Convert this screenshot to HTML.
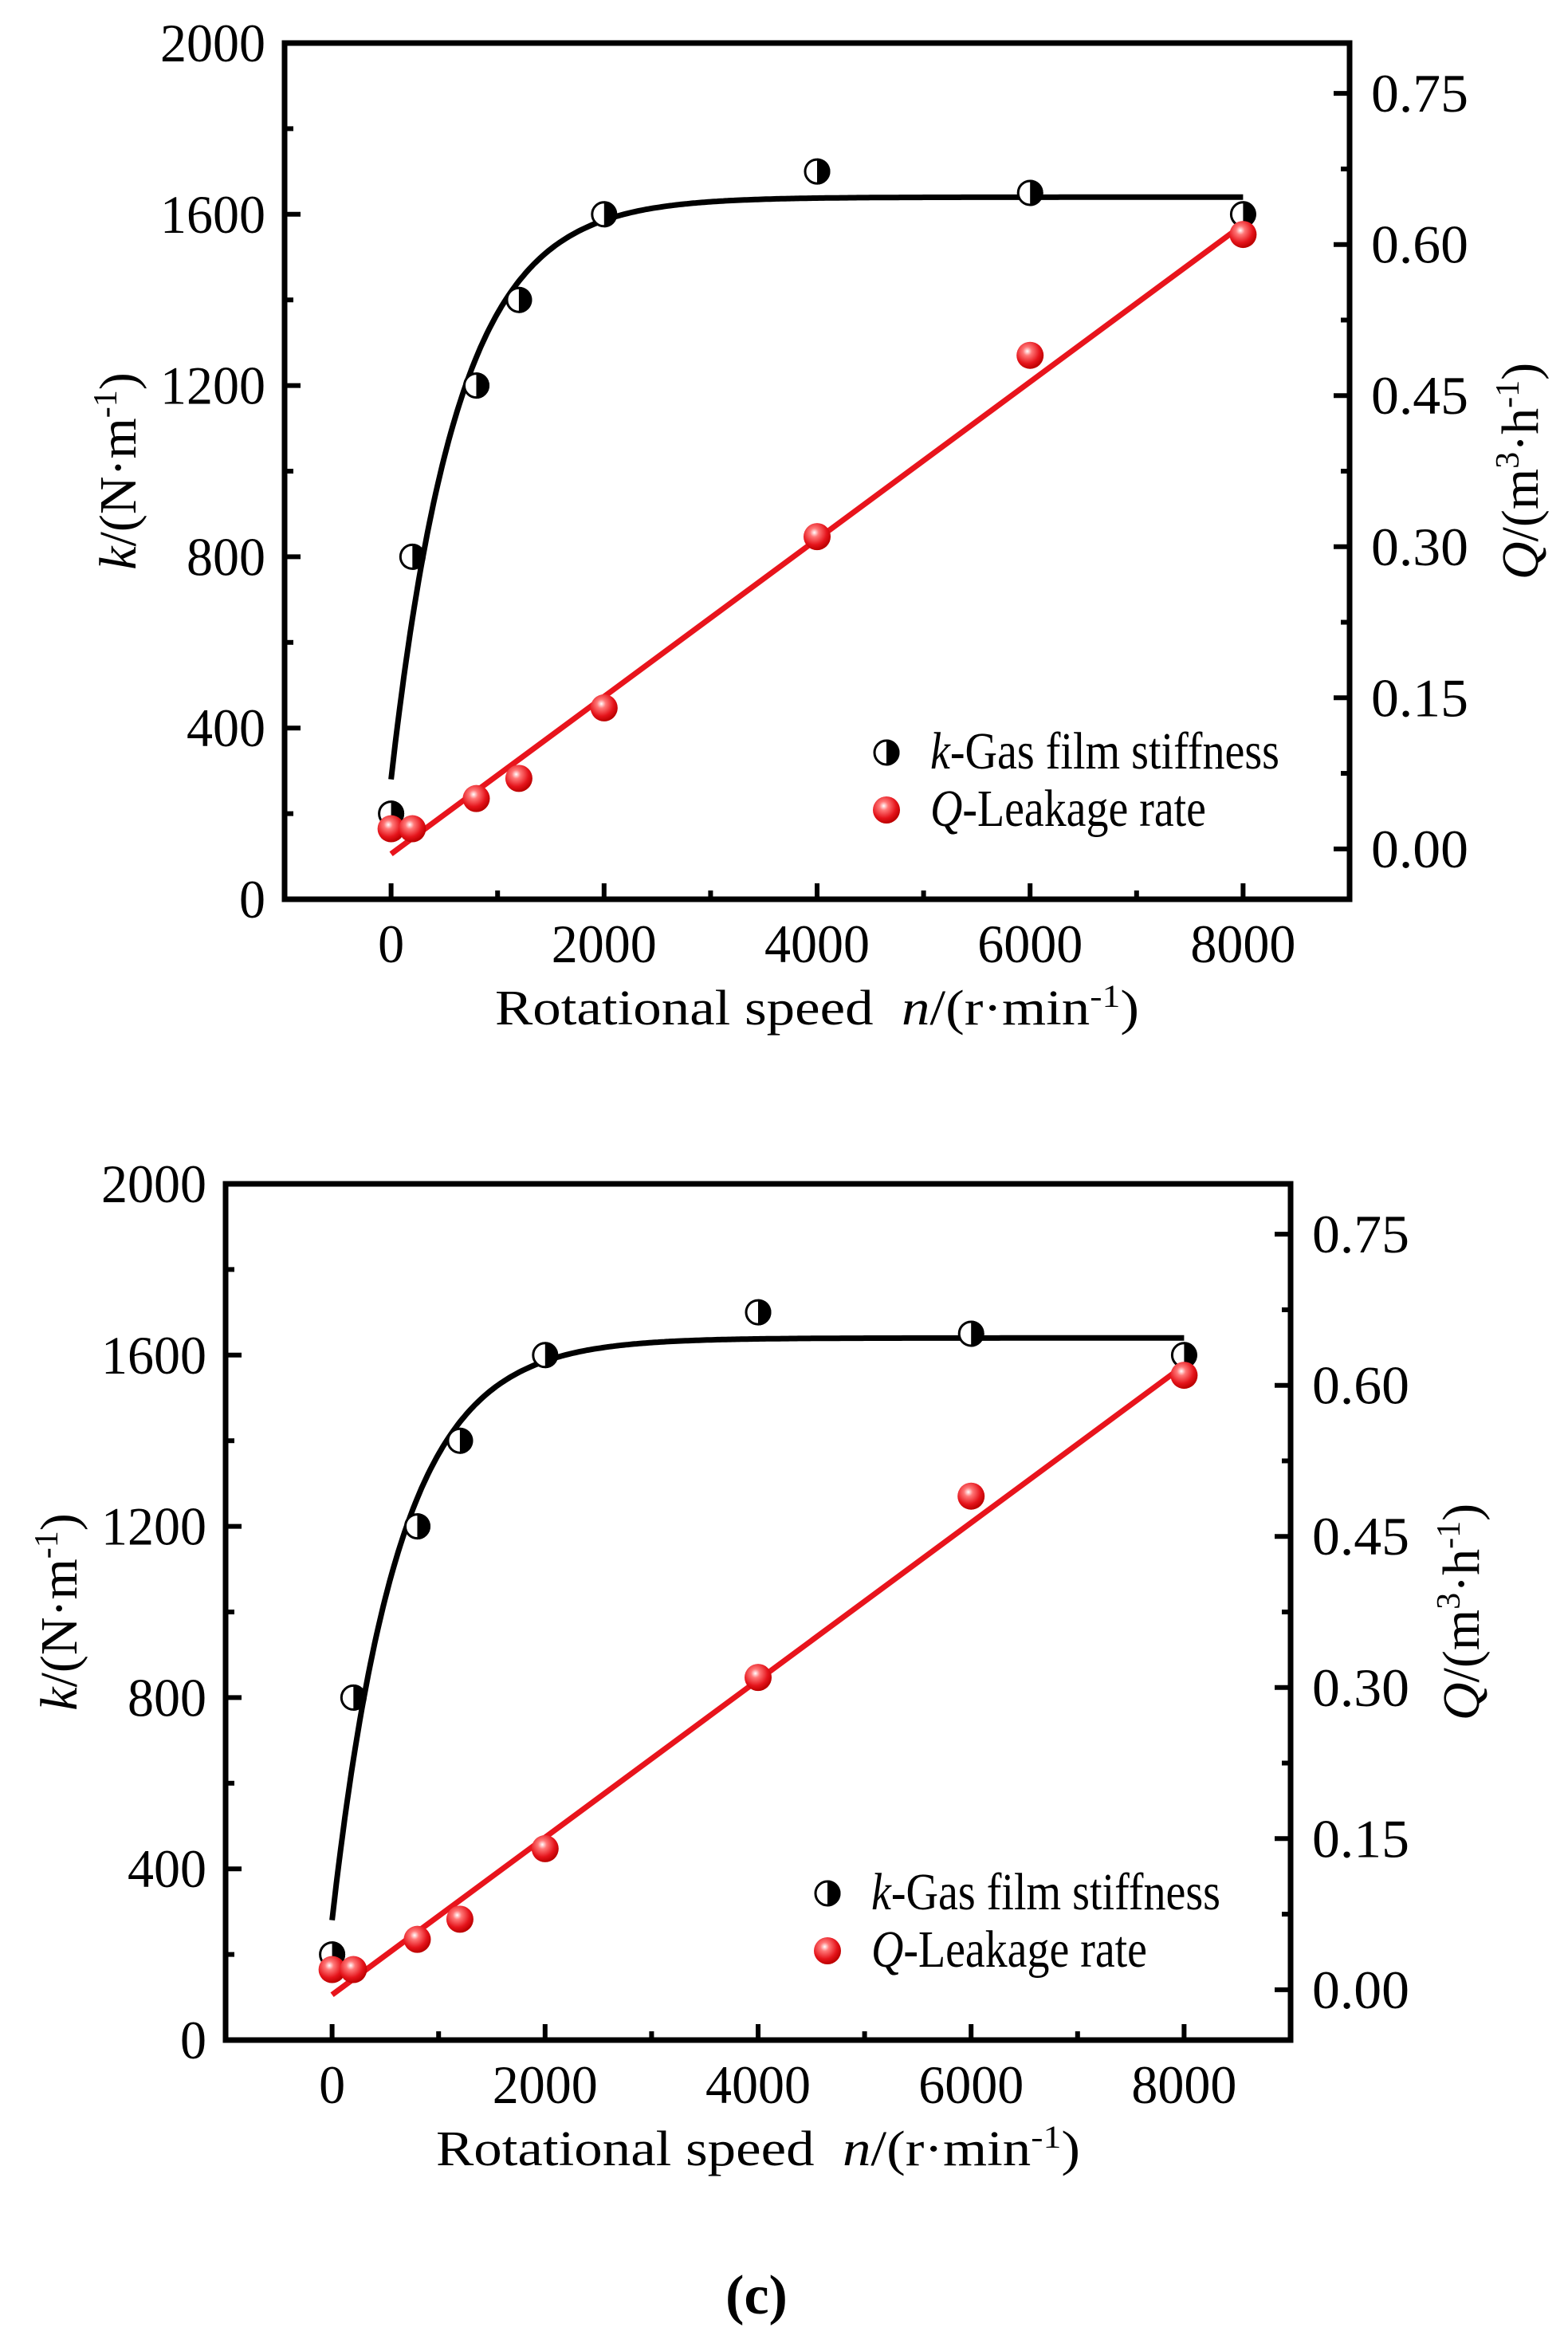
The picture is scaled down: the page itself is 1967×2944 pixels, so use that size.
<!DOCTYPE html>
<html><head><meta charset="utf-8"><style>
html,body{margin:0;padding:0;background:#fff;}
svg{display:block;font-family:"Liberation Serif","Times New Roman",serif;}
</style></head><body>
<svg id="fig" width="1967" height="2944" viewBox="0 0 1967 2944" xmlns="http://www.w3.org/2000/svg">
<defs>
<radialGradient id="redball" cx="0.4" cy="0.35" r="0.65">
<stop offset="0" stop-color="#fff"/><stop offset="0.25" stop-color="#f77"/><stop offset="0.7" stop-color="#e5141b"/><stop offset="1" stop-color="#b00"/>
</radialGradient>
</defs>
<text x="949" y="2902" font-size="70" font-weight="bold" text-anchor="middle">(c)</text>
</svg>
<script>
const speedCats = [0, 200, 800, 1200, 2000, 4000, 6000, 8000];
const stiffnessVals = [200, 800, 1200, 1400, 1600, 1700, 1650, 1600];
const leakageVals = [0.02, 0.02, 0.05, 0.07, 0.14, 0.31, 0.49, 0.61];
const xTicks = [0, 2000, 4000, 6000, 8000];
const kTicks = [0, 400, 800, 1200, 1600, 2000];
const qTicks = ["0.00", "0.15", "0.30", "0.45", "0.60", "0.75"];
const kFitParams = [280, 1640, 620];   // start, plateau, tau
const qFitParams = [-0.005, 0.0000781]; // intercept, slope

const NS = "http://www.w3.org/2000/svg";
const svg = document.getElementById('fig');
function mk(tag, attrs, parent) {
  const e = document.createElementNS(NS, tag);
  for (const k in attrs) e.setAttribute(k, attrs[k]);
  (parent || svg).appendChild(e);
  return e;
}

function drawPanel(ox, oy, id) {
  const L = ox, R = ox + 1336, T = oy, B = oy + 1074;
  const X = n => L + (n + 1000) / 10000 * (R - L);
  const YK = k => B - k / 2000 * (B - T);
  const YQ = q => B - (q + 0.05) / 0.85 * (B - T);
  const g = mk('g', {});
  
  

  const tk = mk('g', {stroke: '#000', 'stroke-width': 6}, g);
  
  
  for (let k = 0; k <= 2000; k += 200) {
    const len = (k % 400 === 0) ? 20 : 11;
    mk('line', {x1: L, x2: L + len, y1: YK(k), y2: YK(k)}, tk);
  }
  for (let i = 0; i <= 11; i++) {
    const q = i * 0.075;
    if (q > 0.8) break;
    const len = (i % 2 === 0) ? 20 : 11;
    mk('line', {x1: R, x2: R - len, y1: YQ(q), y2: YQ(q)}, tk);
  }
  for (let n = 0; n <= 8000; n += 1000) {
    const len = (n % 2000 === 0) ? 20 : 11;
    mk('line', {x1: X(n), x2: X(n), y1: B, y2: B - len}, tk);
  }

  const fr = mk('rect', {x: L, y: T, width: R - L, height: B - T, fill: 'none', stroke: '#000', 'stroke-width': 7}, g);
  
  

  kTicks.forEach(k => {
    const t = mk('text', {x: L - 24, y: YK(k) + 23, 'font-size': 68, 'text-anchor': 'end', textLength: String(k).length * 33, lengthAdjust: 'spacingAndGlyphs'}, g);
    
    
    t.textContent = k;
  });
  qTicks.forEach(q => {
    const t = mk('text', {x: R + 27, y: YQ(parseFloat(q)) + 23, 'font-size': 68, textLength: 122, lengthAdjust: 'spacingAndGlyphs'}, g);
    
    
    t.textContent = q;
  });
  xTicks.forEach(n => {
    const t = mk('text', {x: X(n), y: B + 79, 'font-size': 68, 'text-anchor': 'middle', textLength: String(n).length * 33, lengthAdjust: 'spacingAndGlyphs'}, g);
    
    
    t.textContent = n;
  });

  const xt = mk('text', {x: (L + R) / 2, y: B + 157, 'font-size': 62, 'text-anchor': 'middle', textLength: 808, lengthAdjust: 'spacingAndGlyphs'}, g);
  
  
  xt.innerHTML = 'Rotational speed\u00a0\u00a0<tspan font-style="italic">n</tspan>/(r·min<tspan dy="-22" font-size="40">-1</tspan><tspan dy="22">)</tspan>';

  const yl = mk('text', {x: 0, y: 0, 'font-size': 66, 'text-anchor': 'middle', transform: `translate(${L - 187},${(T + B) / 2}) rotate(-90)`}, g);
  
  
  yl.innerHTML = '<tspan font-style="italic">k</tspan>/(N·m<tspan dy="-24" font-size="42">-1</tspan><tspan dy="24">)</tspan>';

  const yr = mk('text', {x: 0, y: 0, 'font-size': 66, 'text-anchor': 'middle', transform: `translate(${R + 236},${(T + B) / 2}) rotate(-90)`}, g);
  
  
  yr.innerHTML = '<tspan font-style="italic">Q</tspan>/(m<tspan dy="-24" font-size="42">3</tspan><tspan dy="24">·h</tspan><tspan dy="-24" font-size="42">-1</tspan><tspan dy="24">)</tspan>';

  let d = '';
  for (let n = 0; n <= 8000; n += 20) {
    const k = kFitParams[1] - (kFitParams[1] - kFitParams[0]) * Math.exp(-n / kFitParams[2]);
    d += (n === 0 ? 'M' : 'L') + X(n).toFixed(1) + ',' + YK(k).toFixed(1);
  }
  const kc = mk('path', {d: d, fill: 'none', stroke: '#000', 'stroke-width': 7}, g);
  
  
  const ql = mk('line', {x1: X(0), y1: YQ(qFitParams[0]), x2: X(8000), y2: YQ(qFitParams[0] + qFitParams[1] * 8000), stroke: '#e8141c', 'stroke-width': 7}, g);
  
  

  function halfMarker(cx, cy, parent) {
    const m = mk('g', {}, parent);
    
    
    mk('circle', {cx: cx, cy: cy, r: 15, fill: '#fff', stroke: '#000', 'stroke-width': 3}, m);
    mk('path', {d: `M${cx},${cy - 16.5} A16.5,16.5 0 0 1 ${cx},${cy + 16.5} Z`, fill: '#000'}, m);
  }
  function redMarker(cx, cy, parent) {
    const c = mk('circle', {cx: cx, cy: cy, r: 17, fill: 'url(#redball)'}, parent);
    
    
  }
  speedCats.forEach((n, i) => halfMarker(X(n), YK(stiffnessVals[i]), g));
  speedCats.forEach((n, i) => redMarker(X(n), YQ(leakageVals[i]), g));

  const lg = mk('g', {}, g);
  
  
  const lx = L + 755, ly = T + 890;
  halfMarker(lx, ly, lg);
  const t1 = mk('text', {x: lx + 55, y: ly + 20, 'font-size': 66, textLength: 438, lengthAdjust: 'spacingAndGlyphs'}, lg);
  
  
  t1.innerHTML = '<tspan font-style="italic">k</tspan>-Gas film stiffness';
  redMarker(lx, ly + 72, lg);
  const t2 = mk('text', {x: lx + 55, y: ly + 92, 'font-size': 66, textLength: 346, lengthAdjust: 'spacingAndGlyphs'}, lg);
  
  
  t2.innerHTML = '<tspan font-style="italic">Q</tspan>-Leakage rate';
}

drawPanel(357, 54, 'top');
drawPanel(283, 1485, 'bottom');
</script>
</body></html>
